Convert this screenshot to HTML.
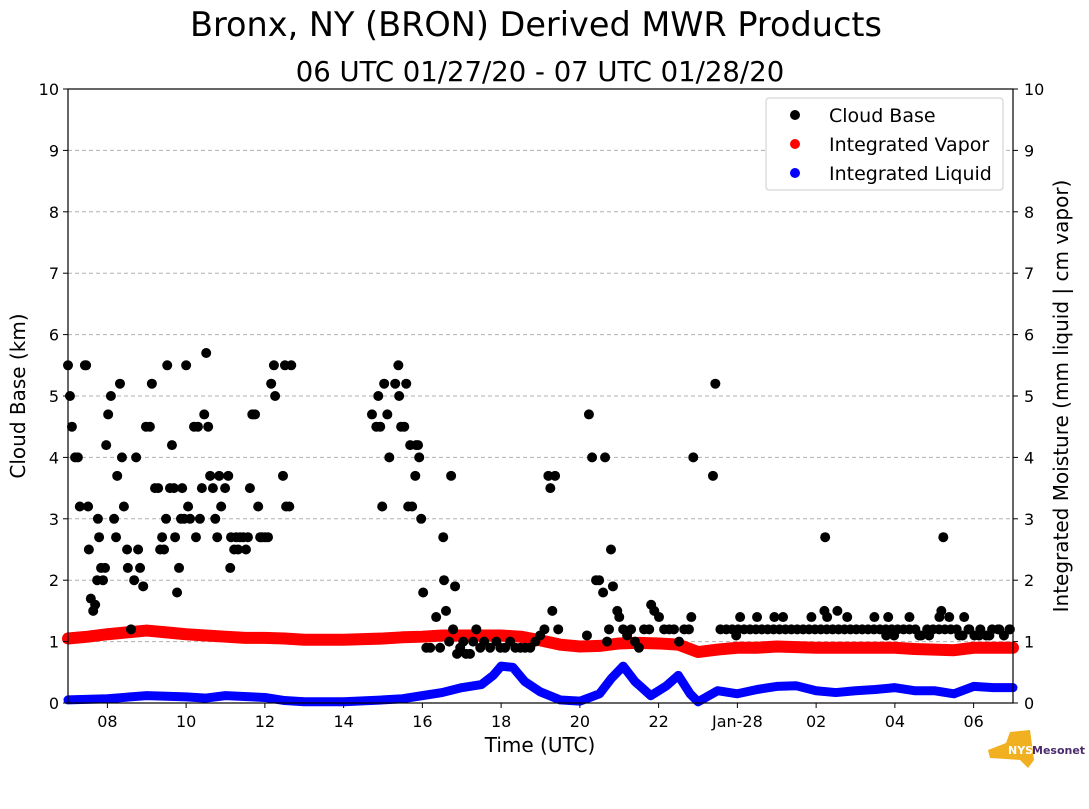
<!DOCTYPE html>
<html><head><meta charset="utf-8"><style>
body{margin:0;background:#fff;font-family:"Liberation Sans","DejaVu Sans",sans-serif}
svg text{font-family:"DejaVu Sans","Liberation Sans",sans-serif}
</style></head><body>
<svg id="c" width="1089" height="804" xmlns="http://www.w3.org/2000/svg">
<text x="536" y="36" font-size="33.5" text-anchor="middle">Bronx, NY (BRON) Derived MWR Products</text>
<text x="540" y="81" font-size="27.5" text-anchor="middle">06 UTC 01/27/20 - 07 UTC 01/28/20</text>
<g id="grid"></g><g id="marks"></g><g id="axes"></g>
<text x="540" y="752" font-size="20" text-anchor="middle">Time (UTC)</text>
<text transform="translate(25,396) rotate(-90)" font-size="20" text-anchor="middle">Cloud Base (km)</text>
<text transform="translate(1068,396) rotate(-90)" font-size="20" text-anchor="middle">Integrated Moisture (mm liquid | cm vapor)</text>
<g>
<rect x="766" y="98" width="237" height="92" rx="3" fill="#fff" stroke="#ccc"/>
<circle cx="795" cy="115" r="5" fill="#000"/><text x="829" y="122" font-size="19">Cloud Base</text>
<circle cx="795" cy="144" r="5" fill="red"/><text x="829" y="151" font-size="19">Integrated Vapor</text>
<circle cx="795" cy="173" r="5" fill="blue"/><text x="829" y="180" font-size="19">Integrated Liquid</text>
</g>
<g>
<path d="M988 750 L1006 743 L1010 732 L1030 730 L1034 760 L1028 768 L1020 760 L990 758 Z" fill="#f0b020"/>
<text x="1008" y="754" font-size="11" font-weight="bold" fill="#fff">NYS</text>
<text x="1032" y="754" font-size="11" font-weight="bold" fill="#4b2a6e">Mesonet</text>
</g>
</svg>
<script>
const cbTime=[7.00,7.05,7.10,7.18,7.25,7.30,7.43,7.46,7.51,7.53,7.58,7.64,7.69,7.74,7.76,7.79,7.84,7.89,7.94,7.97,8.02,8.09,8.17,8.22,8.25,8.32,8.37,8.42,8.50,8.52,8.60,8.68,8.73,8.78,8.83,8.91,8.98,9.08,9.13,9.21,9.29,9.34,9.39,9.44,9.49,9.52,9.59,9.64,9.69,9.72,9.77,9.82,9.87,9.90,9.95,10.00,10.05,10.10,10.20,10.25,10.30,10.35,10.40,10.46,10.51,10.56,10.61,10.68,10.74,10.79,10.84,10.89,10.99,11.07,11.12,11.14,11.22,11.27,11.32,11.37,11.45,11.52,11.57,11.62,11.68,11.75,11.83,11.88,11.93,12.01,12.08,12.16,12.23,12.26,12.46,12.51,12.54,12.62,12.67,
14.72,14.83,14.88,14.93,14.98,15.03,15.11,15.16,15.31,15.39,15.41,15.46,15.54,15.59,15.64,15.69,15.74,15.82,15.84,15.89,15.92,15.97,16.02,16.10,16.20,16.35,16.45,16.53,16.55,16.60,16.68,16.73,16.78,16.83,16.88,16.96,17.04,17.11,17.21,17.29,17.37,17.47,17.57,17.72,17.88,17.98,18.10,18.23,18.36,18.49,18.61,18.74,18.87,18.99,19.10,19.20,19.25,19.30,19.37,19.45,20.18,20.23,20.31,20.41,20.49,20.59,20.64,20.69,20.74,20.79,20.84,20.95,21.00,21.10,21.20,21.30,21.40,21.50,21.63,21.76,21.81,21.89,22.01,22.14,22.27,22.39,22.52,22.65,22.77,22.83,22.88,23.38,
23.44,23.57,23.72,23.87,24.02,24.17,24.32,24.47,24.62,24.77,24.92,25.07,25.22,25.37,25.52,25.67,25.82,25.97,26.12,26.27,26.42,26.57,26.72,26.87,27.02,27.17,27.32,27.47,27.62,27.77,27.92,28.07,28.22,28.37,28.52,28.67,28.82,28.97,29.12,29.27,29.42,29.57,29.72,29.87,30.02,30.17,30.32,30.47,30.62,30.77,30.92,
23.97,24.07,24.50,24.94,25.16,25.88,26.21,26.23,26.28,26.54,26.79,27.48,27.78,27.83,27.98,28.37,28.62,28.87,29.13,29.18,29.23,29.38,29.64,29.76,29.89,30.14,30.40,30.65,30.91];
const cbKm=[5.5,5.0,4.5,4.0,4.0,3.2,5.5,5.5,3.2,2.5,1.7,1.5,1.6,2.0,3.0,2.7,2.2,2.0,2.2,4.2,4.7,5.0,3.0,2.7,3.7,5.2,4.0,3.2,2.5,2.2,1.2,2.0,4.0,2.5,2.2,1.9,4.5,4.5,5.2,3.5,3.5,2.5,2.7,2.5,3.0,5.5,3.5,4.2,3.5,2.7,1.8,2.2,3.0,3.5,3.0,5.5,3.2,3.0,4.5,2.7,4.5,3.0,3.5,4.7,5.7,4.5,3.7,3.5,3.0,2.7,3.7,3.2,3.5,3.7,2.2,2.7,2.5,2.7,2.5,2.7,2.7,2.5,2.7,3.5,4.7,4.7,3.2,2.7,2.7,2.7,2.7,5.2,5.5,5.0,3.7,5.5,3.2,3.2,5.5,
4.7,4.5,5.0,4.5,3.2,5.2,4.7,4.0,5.2,5.5,5.0,4.5,4.5,5.2,3.2,4.2,3.2,3.7,4.2,4.2,4.0,3.0,1.8,0.9,0.9,1.4,0.9,2.7,2.0,1.5,1.0,3.7,1.2,1.9,0.8,0.9,1.0,0.8,0.8,1.0,1.2,0.9,1.0,0.9,1.0,0.9,0.9,1.0,0.9,0.9,0.9,0.9,1.0,1.1,1.2,3.7,3.5,1.5,3.7,1.2,1.1,4.7,4.0,2.0,2.0,1.8,4.0,1.0,1.2,2.5,1.9,1.5,1.4,1.2,1.1,1.2,1.0,0.9,1.2,1.2,1.6,1.5,1.4,1.2,1.2,1.2,1.0,1.2,1.2,1.4,4.0,3.7,5.2,
1.2,1.2,1.2,1.2,1.2,1.2,1.2,1.2,1.2,1.2,1.2,1.2,1.2,1.2,1.2,1.2,1.2,1.2,1.2,1.2,1.2,1.2,1.2,1.2,1.2,1.2,1.2,1.2,1.2,1.2,1.2,1.2,1.2,1.2,1.1,1.2,1.2,1.2,1.2,1.2,1.2,1.1,1.2,1.1,1.2,1.1,1.2,1.2,1.1,1.2,1.1,
1.4,1.4,1.4,1.4,1.4,1.5,2.7,1.4,1.5,1.4,1.4,1.1,1.4,1.1,1.4,1.1,1.1,1.4,1.5,2.7,1.4,1.1,1.4,1.2,1.1,1.1,1.2,1.2,1.1];
const vapTime=[7,7.5,8,8.5,9,9.5,10,10.5,11,11.5,12,12.5,13,13.5,14,14.5,15,15.5,16,16.5,17,17.5,18,18.5,19,19.5,20,20.5,21,21.5,22,22.5,23,23.5,24,24.5,25,25.5,26,26.5,27,27.5,28,28.5,29,29.5,30,30.5,31];
const vapVal=[1.05,1.08,1.12,1.15,1.18,1.15,1.12,1.1,1.08,1.06,1.06,1.05,1.03,1.03,1.03,1.04,1.05,1.07,1.08,1.1,1.1,1.1,1.1,1.08,1.02,0.95,0.92,0.93,0.97,0.98,0.97,0.95,0.83,0.87,0.9,0.9,0.92,0.91,0.9,0.9,0.9,0.9,0.9,0.88,0.87,0.86,0.9,0.9,0.9];
const liqTime=[7,8,9,10,10.5,11,12,12.5,13,14,15,15.5,16,16.5,17,17.5,17.8,18,18.3,18.6,19,19.5,20,20.5,20.8,21.1,21.4,21.8,22.2,22.5,22.8,23,23.5,24,24.5,25,25.5,26,26.5,27,27.5,28,28.5,29,29.5,30,30.5,31];
const liqVal=[0.05,0.07,0.12,0.1,0.08,0.12,0.09,0.04,0.02,0.02,0.05,0.07,0.12,0.17,0.25,0.3,0.45,0.6,0.58,0.35,0.18,0.05,0.03,0.15,0.4,0.6,0.35,0.12,0.28,0.45,0.15,0.02,0.2,0.15,0.22,0.27,0.28,0.2,0.17,0.2,0.22,0.25,0.2,0.2,0.15,0.27,0.25,0.25];
const xTickVals=[8,10,12,14,16,18,20,22,24,26,28,30];
const xTickLabels=["08","10","12","14","16","18","20","22","Jan-28","02","04","06"];
const yTicks=[0,1,2,3,4,5,6,7,8,9,10];
const L=68,R=1013,T=89,B=703;
const xS=h=>L+(h-7)/24*(R-L);
const yS=v=>B-v/10*(B-T);
const NS="http://www.w3.org/2000/svg";
function mk(tag,at,par){const e=document.createElementNS(NS,tag);for(const k in at)e.setAttribute(k,at[k]);par.appendChild(e);return e;}
const grid=document.getElementById('grid'),marks=document.getElementById('marks'),axes=document.getElementById('axes');
yTicks.forEach(v=>{
 if(v>0&&v<10){const g=mk('line',{x1:L,x2:R,y1:yS(v),y2:yS(v),stroke:'#b0b0b0','stroke-dasharray':'4,3'},grid);
 
 }
 mk('line',{x1:L-5,x2:L,y1:yS(v),y2:yS(v),stroke:'#000'},axes);
 mk('line',{x1:R,x2:R+5,y1:yS(v),y2:yS(v),stroke:'#000'},axes);
 const t1=mk('text',{x:L-9,y:yS(v)+6,'font-size':16,'text-anchor':'end'},axes);t1.textContent=v;
 
 
 const t2=mk('text',{x:R+11,y:yS(v)+6,'font-size':16},axes);t2.textContent=v;
 
 
});
xTickVals.forEach((h,i)=>{
 mk('line',{x1:xS(h),x2:xS(h),y1:B,y2:B+5,stroke:'#000'},axes);
 const t=mk('text',{x:xS(h),y:B+24,'font-size':16,'text-anchor':'middle'},axes);t.textContent=xTickLabels[i];
 
 
});
const fr=mk('rect',{x:L,y:T,width:R-L,height:B-T,fill:'none',stroke:'#000','stroke-width':1.2},axes);


function series(ts,vs,col,name,w){
 const p=mk('polyline',{points:ts.map((t,i)=>xS(t)+','+yS(vs[i])).join(' '),fill:'none',stroke:col,'stroke-width':w,'stroke-linejoin':'round','stroke-linecap':'round'},marks);
 
 
}
series(vapTime,vapVal,'red','integrated-vapor-series',12);
series(liqTime,liqVal,'blue','integrated-liquid-series',9);
cbTime.forEach((t,i)=>{
 const c=mk('circle',{cx:xS(t),cy:yS(cbKm[i]),r:5,fill:'#000'},marks);
 
 
});
</script>
</body></html>
